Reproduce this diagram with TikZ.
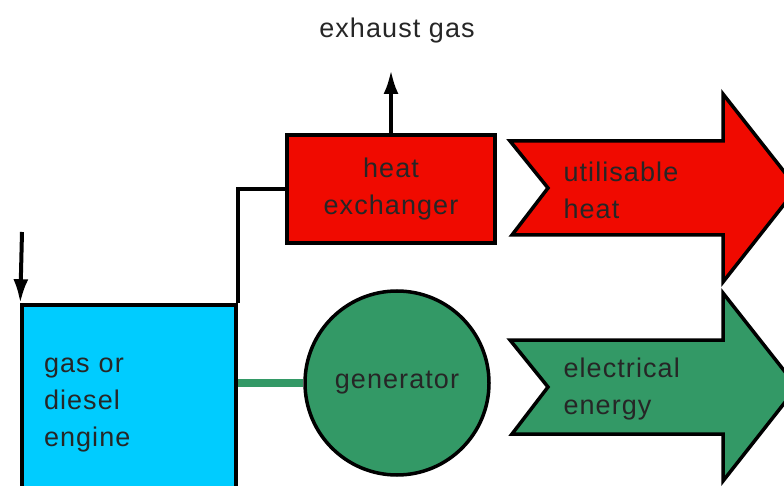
\documentclass[tikz,border=0pt]{standalone}
\usepackage{fontspec}
\setmainfont{Liberation Sans}[LetterSpace=4]
\usetikzlibrary{positioning,arrows.meta}
\definecolor{enginecolor}{HTML}{00CCFF}
\definecolor{heatcolor}{HTML}{F00A00}
\definecolor{powercolor}{HTML}{339966}
\tikzstyle{every node}=[font=\fontsize{27}{37}\selectfont, text=black!85]
\tikzstyle{block}=[rectangle,draw,line width=3.5pt]
\tikzstyle{pipe}=[line width=3.5pt]
\tikzstyle{flow}=[-{Latex[length=24pt,width=15pt]},line width=4pt]
\tikzstyle{shaft}=[line width=8pt,powercolor]
% fat arrow: name, centre y, colour, text
\newcommand{\fatarrow}[4]{
\filldraw[#3, draw=black, line width=3.5pt, line join=miter]
  (510,#2-47) -- (723,#2-47) -- (723,#2-94) -- (797,#2) -- (723,#2+94)
  -- (723,#2+47) -- (512,#2+47) -- (548,#2) -- cycle;
\node[align=left, anchor=west] (#1) at (560,#2+2) {#4};
}

\begin{document}
\begin{tikzpicture}[x=1pt,y=-1pt]
\clip (0,0) rectangle (784,486);

\node[block, fill=enginecolor, minimum width=214pt, minimum height=200pt,
  text width=170pt, align=left] (engine) at (129,405) {gas or\\diesel\\engine};
\node[block, fill=heatcolor, minimum width=208pt, minimum height=108pt,
  align=center] (hx) at (391,189) {heat\\exchanger};
\node[circle, draw, line width=3.5pt, fill=powercolor, minimum size=184pt,
  inner sep=0] (gen) at (397,383) {generator};

\fatarrow{heat}{188}{heatcolor}{utilisable\\heat}
\fatarrow{power}{387}{powercolor}{electrical\\energy}

\coordinate (fuel) at (22,232);
\coordinate (out) at (hx.north |- 0,70);
\node (exh) at (397,31) {exhaust gas};

\draw[flow] (fuel) -- (engine.north west);
\draw[pipe] (engine.north east) |- (hx.west);
\draw[flow] (hx.north) -- (out);
\draw[shaft] (engine.east |- gen.west) -- (gen.west);
\end{tikzpicture}
\end{document}
